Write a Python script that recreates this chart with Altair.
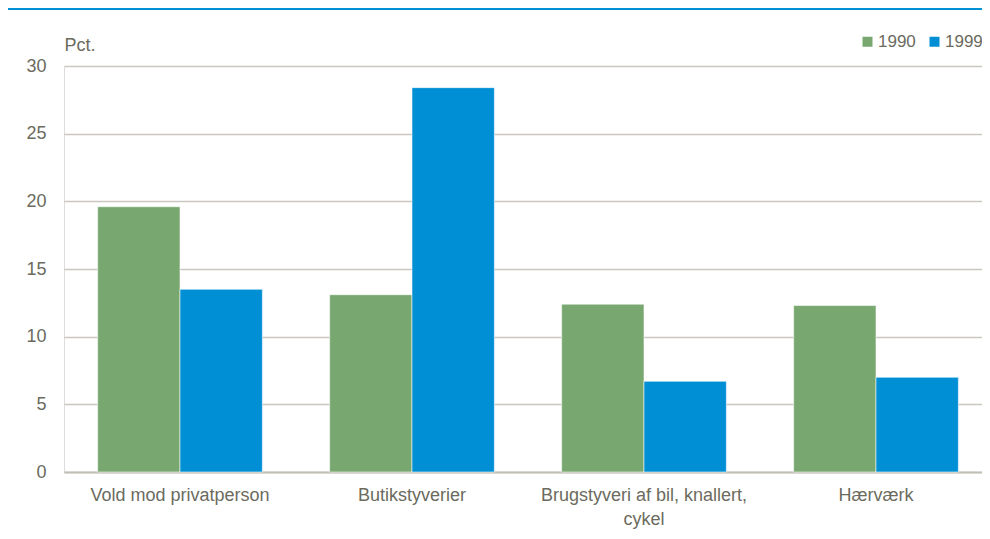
import altair as alt
import pandas as pd

categories = ["Vold mod privatperson", "Butikstyverier", "Brugstyveri af bil, knallert, cykel", "Hærværk"]
values_1990 = [19.6, 13.1, 12.4, 12.3]
values_1999 = [13.5, 28.4, 6.7, 7.0]
years = ["1990", "1999"]
y_ticks = [0, 5, 10, 15, 20, 25, 30]

rows = []
for c, a, b in zip(categories, values_1990, values_1999):
    rows.append({"kategori": c, "år": "1990", "pct": a})
    rows.append({"kategori": c, "år": "1999", "pct": b})
df = pd.DataFrame(rows)

FONT = "Liberation Sans Narrow, Arial Narrow, Liberation Sans, sans-serif"
TXT = "#6b6b5e"
GRID = "#cac8be"
W, H = 918, 406

label_expr = ("datum.value == 'Brugstyveri af bil, knallert, cykel' ? "
              "['Brugstyveri af bil, knallert,', 'cykel'] : datum.value")

bars = alt.Chart(df).mark_bar(stroke="white", strokeWidth=0.8, strokeOpacity=0.7).encode(
    x=alt.X("kategori:N", sort=categories,
            scale=alt.Scale(range=[0, 928], paddingInner=0.29, paddingOuter=0.145),
            axis=alt.Axis(title=None, labelAngle=0, labelExpr=label_expr,
                          labelFont=FONT, labelFontSize=18, labelColor=TXT,
                          labelPadding=14, labelLineHeight=24, ticks=False,
                          domainColor="#c2c0b6", domainWidth=2, labelLimit=300)),
    xOffset=alt.XOffset("år:N", sort=years, scale=alt.Scale(paddingInner=0, paddingOuter=0)),
    y=alt.Y("pct:Q", scale=alt.Scale(domain=[0, 30], nice=False),
            axis=alt.Axis(values=y_ticks, title="Pct.", titleAngle=0, titleX=0, titleY=-21,
                          titleAlign="left", titleBaseline="middle",
                          titleFont=FONT, titleFontSize=18, titleFontWeight="normal",
                          titleColor=TXT, labelFont=FONT, labelFontSize=18,
                          labelColor=TXT, labelPadding=18, ticks=False, domain=False,
                          gridColor=GRID, gridWidth=1.3)),
    color=alt.Color("år:N", sort=years,
                    scale=alt.Scale(domain=years, range=["#78a870", "#008fd5"]),
                    legend=alt.Legend(title=None, orient="none", direction="horizontal",
                                      legendX=795, legendY=-33, symbolType="square",
                                      symbolSize=100, symbolStrokeWidth=0,
                                      labelFont=FONT, labelFontSize=17, labelColor=TXT,
                                      labelOffset=2, columnPadding=10, padding=0)),
)

top_line = alt.Chart(pd.DataFrame({"a": [0]})).mark_rule(color="#0090d4", strokeWidth=2).encode(
    x=alt.value(-56), x2=alt.value(W + 10), y=alt.value(-57)
)

chart = alt.layer(bars, top_line).properties(
    width=W, height=H,
    autosize=alt.AutoSizeParams(type="none"),
    padding={"left": 56, "top": 58, "right": 0, "bottom": 60},
).configure_view(stroke=None).configure(background="white")

chart.save("out.html", embed_options={"renderer": "svg", "actions": False})
